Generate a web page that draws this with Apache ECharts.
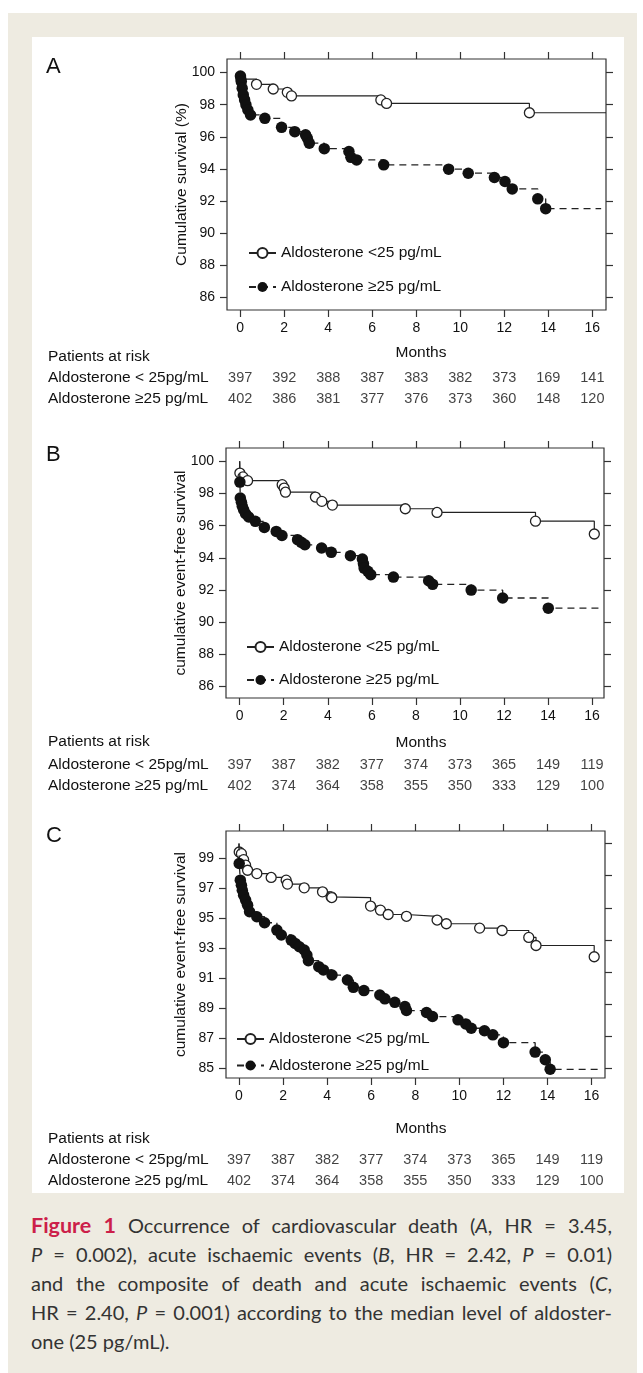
<!DOCTYPE html>
<html>
<head>
<meta charset="utf-8">
<script src="https://cdn.jsdelivr.net/npm/echarts@6/dist/echarts.min.js"></script>
<style>
  html, body { margin: 0; padding: 0; background: #fff; }
  #frame { position: absolute; left: 8px; top: 13px; width: 629px; height: 1360px; background: #eeebe1; }
  #panel { position: absolute; left: 32px; top: 37px; width: 592px; height: 1156px; background: #fff; }
  #main { position: absolute; left: 0; top: 0; width: 643px; height: 1193px; }
  #caption { position: absolute; left: 31px; top: 1211px; width: 581px; font-family: Lato, "Open Sans", sans-serif; font-size: 20px; line-height: 29px; color: #333; }
  #caption div { text-align: justify; text-align-last: justify; white-space: nowrap; }
  #caption div.last { text-align-last: left; }
  #caption b { color: #cc1f4a; font-size: 21.5px; }
</style>
</head>
<body>
<div id="frame"></div>
<div id="panel"></div>
<div id="main"></div>
<div id="caption">
  <div><b>Figure 1</b> Occurrence of cardiovascular death (<i>A</i>, HR = 3.45,</div>
  <div><i>P</i> = 0.002), acute ischaemic events (<i>B</i>, HR = 2.42, <i>P</i> = 0.01)</div>
  <div>and the composite of death and acute ischaemic events (<i>C</i>,</div>
  <div>HR = 2.40, <i>P</i> = 0.001) according to the median level of aldoster-</div>
  <div class="last">one (25 pg/mL).</div>
</div>
<script>
// months shown on the x axis and in the at-risk table
const months = [0, 2, 4, 6, 8, 10, 12, 14, 16];
const ticksAB = [86, 88, 90, 92, 94, 96, 98, 100];
const ticksC = [85, 87, 89, 91, 93, 95, 97, 99];
const rightTicksC = [85, 87.14, 89.29, 91.43, 93.57, 95.71, 97.86, 100];

const lowName = 'Aldosterone <25 pg/mL';
const highName = 'Aldosterone \u226525 pg/mL';
const rowLow = 'Aldosterone < 25pg/mL';
const rowHigh = 'Aldosterone \u226525 pg/mL';

// patients at risk
const riskALow = [397, 392, 388, 387, 383, 382, 373, 169, 141];
const riskAHigh = [402, 386, 381, 377, 376, 373, 360, 148, 120];
const riskBLow = [397, 387, 382, 377, 374, 373, 365, 149, 119];
const riskBHigh = [402, 374, 364, 358, 355, 350, 333, 129, 100];
const riskCLow = [397, 387, 382, 377, 374, 373, 365, 149, 119];
const riskCHigh = [402, 374, 364, 358, 355, 350, 333, 129, 100];

// survival curves [month, %]
const aLow = [[0, 100], [0.03, 99.6], [0.74, 99.27], [1.5, 98.98], [2.14, 98.77], [2.33, 98.55],
  [6.39, 98.3], [6.65, 98.08], [13.14, 97.5]];
const aHigh = [[0, 100], [0.01, 99.79], [0.05, 99.44], [0.09, 99.02], [0.14, 98.61], [0.2, 98.3],
  [0.26, 97.99], [0.35, 97.67], [0.47, 97.36], [1.12, 97.15], [1.88, 96.59], [2.48, 96.32],
  [2.97, 96.12], [3.05, 95.91], [3.14, 95.6], [3.82, 95.26], [4.94, 95.08], [5.03, 94.72],
  [5.29, 94.56], [6.52, 94.25], [9.47, 93.98], [10.36, 93.73], [11.55, 93.46], [12.03, 93.21],
  [12.36, 92.75], [13.52, 92.13], [13.88, 91.52]];
const bLow = [[0, 100], [0.01, 99.27], [0.15, 99.03], [0.36, 98.8], [1.93, 98.55], [2.02, 98.34],
  [2.08, 98.08], [3.44, 97.78], [3.73, 97.51], [4.21, 97.28], [7.52, 97.05], [8.96, 96.82],
  [13.43, 96.28], [16.1, 95.48]];
const bHigh = [[0, 100], [0.01, 98.71], [0.03, 97.72], [0.08, 97.45], [0.12, 97.2], [0.18, 96.99],
  [0.27, 96.74], [0.41, 96.54], [0.71, 96.27], [1.12, 95.89], [1.66, 95.64], [1.92, 95.39],
  [2.63, 95.13], [2.8, 94.96], [2.96, 94.81], [3.72, 94.61], [4.16, 94.34], [5.03, 94.13],
  [5.57, 93.92], [5.62, 93.63], [5.65, 93.36], [5.82, 93.16], [5.95, 92.95], [6.98, 92.8],
  [8.58, 92.57], [8.76, 92.35], [10.51, 91.99], [11.94, 91.5], [14.01, 90.87]];
const cLow = [[0, 100], [0.01, 99.44], [0.11, 99.33], [0.21, 98.93], [0.3, 98.56], [0.39, 98.22],
  [0.81, 98.0], [1.46, 97.74], [2.14, 97.56], [2.2, 97.3], [2.96, 97.05], [3.79, 96.78],
  [4.18, 96.45], [4.21, 96.4], [5.97, 95.83], [6.42, 95.56], [6.77, 95.27], [7.6, 95.15],
  [8.99, 94.9], [9.41, 94.65], [10.92, 94.36], [11.94, 94.2], [13.15, 93.74], [13.48, 93.2],
  [16.12, 92.45]];
const cHigh = [[0, 100], [0.01, 98.67], [0.06, 97.56], [0.11, 97.22], [0.15, 96.89], [0.21, 96.56],
  [0.3, 96.23], [0.39, 95.89], [0.48, 95.45], [0.81, 95.12], [1.16, 94.72], [1.72, 94.23],
  [1.92, 93.9], [2.37, 93.56], [2.55, 93.34], [2.74, 93.12], [2.96, 92.9], [3.08, 92.57],
  [3.15, 92.19], [3.62, 91.79], [3.83, 91.57], [4.22, 91.23], [4.92, 90.9], [5.19, 90.41],
  [5.67, 90.19], [6.39, 89.9], [6.62, 89.64], [7.07, 89.41], [7.53, 89.13], [7.6, 88.86],
  [8.51, 88.73], [8.78, 88.46], [9.94, 88.24], [10.29, 87.97], [10.54, 87.68], [11.14, 87.51],
  [11.52, 87.24], [12.0, 86.72], [13.44, 86.09], [13.9, 85.58], [14.12, 84.94]];

const panels = [
  { letter: 'A', left: 227, right: 37, top: 59, height: 251, xMin: -0.6, xMax: 16.62, yMin: 85.2, yMax: 100.85,
    yTicks: ticksAB, rTicks: ticksAB, yName: 'Cumulative survival (%)',
    low: aLow, lowEnd: 16.62, high: aHigh, highEnd: 16.4, riskLow: riskALow, riskHigh: riskAHigh,
    legendLeft: 248, legendTop: 245, legendGap: 18, monthsY: 352.6, patientsY: 357, row1: 378, letterY: 67 },
  { letter: 'B', left: 226, right: 39, top: 448, height: 250, xMin: -0.62, xMax: 16.54, yMin: 85.28, yMax: 100.83,
    yTicks: ticksAB, rTicks: ticksAB, yName: 'cumulative event-free survival',
    low: bLow, lowEnd: 16.1, high: bHigh, highEnd: 16.3, riskLow: riskBLow, riskHigh: riskBHigh,
    legendLeft: 246, legendTop: 639, legendGap: 17, monthsY: 743, patientsY: 742, row1: 765, letterY: 455 },
  { letter: 'C', left: 226, right: 38, top: 831, height: 247, xMin: -0.59, xMax: 16.61, yMin: 84.36, yMax: 100.84,
    yTicks: ticksC, rTicks: rightTicksC, yName: 'cumulative event-free survival',
    low: cLow, lowEnd: 16.12, high: cHigh, highEnd: 16.4, riskLow: riskCLow, riskHigh: riskCHigh,
    legendLeft: 236, legendTop: 1031, legendGap: 10.5, monthsY: 1128.7, patientsY: 1139, row1: 1160, letterY: 836 }
];

const ink = '#111';
const textFont = 'Liberation Sans, Arial, Helvetica, sans-serif';
const rowStep = 21;

function curveData(pts, end) {
  const out = pts.map(function (p, i) {
    return i === 0 ? { value: p, symbol: 'none' } : p;
  });
  const last = pts[pts.length - 1];
  if (end > last[0]) out.push({ value: [end, last[1]], symbol: 'none' });
  return out;
}

const grid = [], xAxis = [], yAxis = [], series = [], legend = [], graphic = [];
const n = panels.length;

panels.forEach(function (p, i) {
  grid[i] = { left: p.left, right: p.right, top: p.top, height: p.height, show: true,
    borderColor: '#333', borderWidth: 1.2, backgroundColor: 'transparent' };
  // table rows under each plot, sharing the month scale
  grid[n + i] = { left: p.left, right: p.right, top: p.row1 - rowStep / 2, height: rowStep * 2 };

  const tick = { show: true, length: 7, lineStyle: { color: '#333', width: 1.2 } };
  const noLine = { show: false, onZero: false };
  xAxis[i] = { type: 'value', gridIndex: i, position: 'bottom', min: p.xMin, max: p.xMax,
    axisLine: noLine, splitLine: { show: false },
    axisTick: Object.assign({ customValues: months }, tick),
    axisLabel: { customValues: months, margin: 11, color: ink, fontSize: 14, fontFamily: textFont } };
  xAxis[n + i] = { type: 'value', gridIndex: i, position: 'top', min: p.xMin, max: p.xMax,
    axisLine: noLine, splitLine: { show: false },
    axisTick: Object.assign({ customValues: months }, tick), axisLabel: { show: false } };
  xAxis[2 * n + i] = { type: 'value', gridIndex: n + i, min: p.xMin, max: p.xMax, show: false };

  yAxis[i] = { type: 'value', gridIndex: i, position: 'left', min: p.yMin, max: p.yMax,
    axisLine: noLine, splitLine: { show: false },
    axisTick: Object.assign({ customValues: p.yTicks }, tick),
    axisLabel: { customValues: p.yTicks, margin: 12, color: ink, fontSize: 14, fontFamily: textFont },
    name: p.yName, nameLocation: 'middle', nameGap: 37, nameMoveOverlap: false,
    nameTextStyle: { color: ink, fontSize: 15.5, fontFamily: textFont } };
  yAxis[n + i] = { type: 'value', gridIndex: i, position: 'right', min: p.yMin, max: p.yMax,
    axisLine: noLine, splitLine: { show: false },
    axisTick: Object.assign({ customValues: p.rTicks }, tick), axisLabel: { show: false } };
  yAxis[2 * n + i] = { type: 'category', gridIndex: n + i, data: ['low', 'high'], inverse: true, show: false };

  series.push({
    name: lowName, type: 'line', step: 'end', xAxisIndex: i, yAxisIndex: i,
    data: curveData(p.low, p.lowEnd), symbol: 'circle', symbolSize: 10, showAllSymbol: true,
    lineStyle: { color: '#222', width: 1.2 },
    itemStyle: { color: '#fff', borderColor: '#222', borderWidth: 1.3 },
    emphasis: { disabled: true }, z: 2
  });
  series.push({
    name: highName, type: 'line', step: 'end', xAxisIndex: i, yAxisIndex: i,
    data: curveData(p.high, p.highEnd), symbol: 'circle', symbolSize: 11.5, showAllSymbol: true,
    lineStyle: { color: '#222', width: 1.3, type: [7, 5] },
    itemStyle: { color: '#111' },
    emphasis: { disabled: true }, z: 3
  });

  [p.riskLow, p.riskHigh].forEach(function (vals, r) {
    series.push({
      type: 'scatter', xAxisIndex: 2 * n + i, yAxisIndex: 2 * n + i, silent: true,
      symbolSize: 0.1, itemStyle: { color: ink },
      data: months.map(function (m, k) { return [m, r, vals[k]]; }),
      label: { show: true, position: 'inside', color: ink, fontSize: 14.5, fontFamily: textFont,
        textBorderWidth: 0, formatter: function (d) { return d.value[2]; } }
    });
  });

  legend.push({
    orient: 'vertical', left: p.legendLeft, top: p.legendTop, padding: 0, itemWidth: 27, itemHeight: 12.5,
    itemGap: p.legendGap, data: [lowName, highName], selectedMode: false,
    textStyle: { color: ink, fontSize: 15.5, fontFamily: textFont }
  });

  const t = function (text, x, y, size, align) {
    return { type: 'text', x: x, y: y, silent: true,
      style: { text: text, fill: ink, font: size + 'px ' + textFont, align: align || 'left', verticalAlign: 'middle' } };
  };
  graphic.push(t(p.letter, 46, p.letterY, 22));
  graphic.push(t('Patients at risk', 48, p.patientsY, 15.5));
  graphic.push(t('Months', 421, p.monthsY, 15.5, 'center'));
  graphic.push(t(rowLow, 48, p.row1, 15.5));
  graphic.push(t(rowHigh, 48, p.row1 + rowStep, 15.5));
});

const chart = echarts.init(document.getElementById('main'), null, { renderer: 'canvas' });
chart.setOption({
  animation: false,
  backgroundColor: 'transparent',
  grid: grid, xAxis: xAxis, yAxis: yAxis, legend: legend, series: series, graphic: graphic
});
</script>
</body>
</html>
